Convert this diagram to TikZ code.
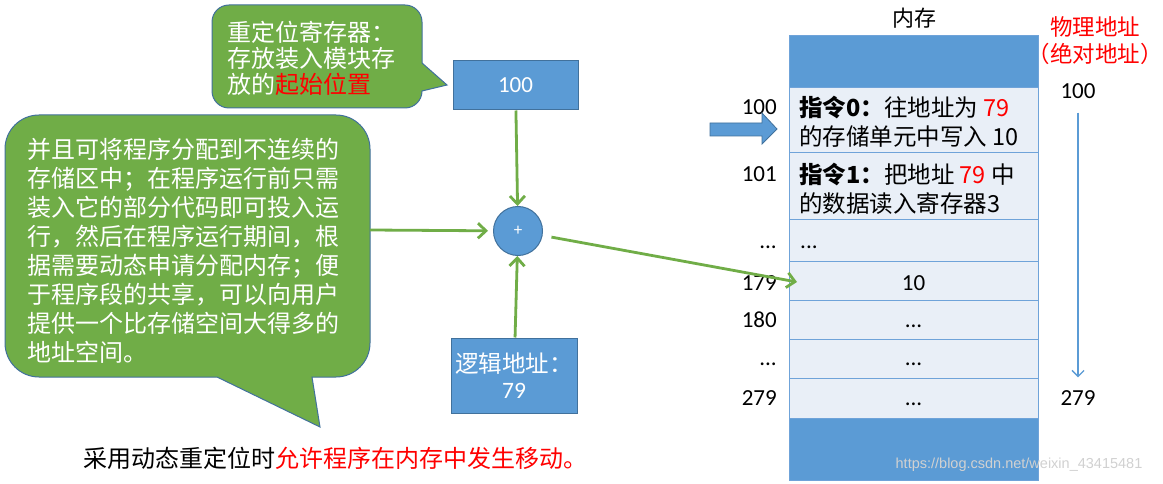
\documentclass[tikz,border=0pt]{standalone}
\usepackage{fontspec}
\setmainfont{Carlito}
\newfontfamily\cjk{Noto Sans CJK SC}
\newfontfamily\wmfont{Liberation Sans}
\usetikzlibrary{arrows.meta}
\definecolor{pptblue}{HTML}{5B9BD5}
\definecolor{pptedge}{HTML}{41719C}
\definecolor{pptgreen}{HTML}{70AD47}
\definecolor{cellfill}{HTML}{E9EFF7}
\definecolor{celledge}{HTML}{6FA3D9}
\newcommand{\fs}[2]{\fontsize{#1}{#2}\selectfont}
\newcommand{\ellip}{.{}.{}.}

\begin{document}
\begin{tikzpicture}[x=1pt, y=-1pt,
    bluebox/.style={draw=pptedge, fill=pptblue, line width=1pt, text=white, inner sep=0pt},
    memcell/.style={draw=celledge, fill=cellfill, line width=1pt, minimum width=249pt, inner sep=0pt},
    memblock/.style={draw=celledge, fill=pptblue, line width=1pt, minimum width=249pt, inner sep=0pt},
    balloon/.style={draw=pptedge, fill=pptgreen, line width=1pt},
    notetext/.style={text=white, align=left, inner sep=0pt},
    flow/.style={draw=pptgreen, line width=2.8pt, -{Straight Barb[length=8pt,width=15pt]}},
    addr/.style={font=\fs{23}{26}, inner sep=0pt},
    rowtext/.style={font=\cjk\fs{23.5}{29}, align=left, inner sep=0pt}]
  \fill[white] (0,0) rectangle (1163,484);
  % callouts
  \draw[balloon] (229,5) -- (405,5) arc[start angle=-90, end angle=0, radius=17]
    -- (422,63) -- (447,85) -- (422,91) arc[start angle=0, end angle=90, radius=17]
    -- (229,108) arc[start angle=90, end angle=180, radius=17]
    -- (212,22) arc[start angle=180, end angle=270, radius=17] -- cycle;
  \node[notetext, anchor=west, font=\cjk\fs{24}{26}] (regnote) at (227,58)
    {重定位寄存器：\\存放装入模块存\\放的\textcolor{red}{起始位置}};
  \draw[balloon] (39,115) -- (336,115) arc[start angle=-90, end angle=0, radius=34]
    -- (370,343) arc[start angle=0, end angle=90, radius=34]
    -- (312,377) -- (320,427) -- (217,377)
    -- (39,377) arc[start angle=90, end angle=180, radius=34]
    -- (5,149) arc[start angle=180, end angle=270, radius=34] -- cycle;
  \node[notetext, anchor=west, font=\cjk\fs{24}{29}] (memo) at (27,251)
    {并且可将程序分配到不连续的\\存储区中；在程序运行前只需\\装入它的部分代码即可投入运\\行，然后在程序运行期间，根\\据需要动态申请分配内存；便\\于程序段的共享，可以向用户\\提供一个比存储空间大得多的\\地址空间。};
  \coordinate (memoR) at (370,230);
  % address adder
  \node[bluebox, minimum width=125pt, minimum height=49pt, font=\fs{23}{26}] (base) at (515.5,85.5) {100};
  \node[bluebox, circle, minimum size=49pt, font=\fs{17}{17}] (plus) at (518,231) {+};
  \node[bluebox, minimum width=126pt, minimum height=75pt, align=center, font=\fs{23.5}{26}] (logic) at (514,375.5)
    {{\cjk 逻辑地址：}\\79};
  \draw[flow] (base) -- (plus);
  \draw[flow] (logic) -- (plus);
  \draw[flow, shorten >=5pt] (memoR) -- (plus);
  % memory
  \node[font=\cjk\fs{22}{24}] (memtitle) at (914,18) {内存};
  \node[memblock, minimum height=52pt] (mtop) at (913.5,62) {};
  \foreach \n/\yc/\h in {100/120.5/65, 101/186.5/67, d1/240.5/41, 179/280.5/39,
      180/319.5/39, d2/358.5/39, 279/398/40} {
    \node[memcell, minimum height=\h pt] (m\n) at (913.5,\yc) {};
  }
  \node[memblock, minimum height=62pt] (mbot) at (913.5,449) {};
  \foreach \a/\yb in {100/115, 101/182, \ellip/248, 179/290, 180/327, \ellip/365, 279/405} {
    \node[addr, anchor=base east] (a\yb) at (777,\yb) {\a};
  }
  \node[rowtext, anchor=west] (ins0) at (799,122)
    {\textbf{指令0：}往地址为 \textcolor{red}{79}\\的存储单元中写入 10};
  \node[rowtext, anchor=west] (ins1) at (799,189)
    {\textbf{指令1：}把地址 \textcolor{red}{79} 中\\的数据读入寄存器3};
  \node[addr, anchor=base west] (vd1) at (800,248) {\ellip};
  \foreach \t/\yb/\n in {10/290/179, \ellip/327/180, \ellip/365/d2, \ellip/405/279} {
    \node[addr, anchor=base] (v\n) at (913.5,\yb) {\t};
  }
  \fill[pptblue, draw=pptedge, line width=0.8pt] (710,123) -- (762,123) -- (762,113) -- (777,129)
    -- (762,144) -- (762,136) -- (710,136) -- cycle;
  \coordinate (hit) at (797,282);
  \draw[flow, shorten <=9pt] (plus) -- (hit);
  % physical addresses
  \node[text=red, align=center, font=\cjk\fs{22.5}{27}] (phys) at (1095,41)
    {物理地址\\\makebox[10pt][r]{（}绝对地址\makebox[10pt][l]{）}};
  \node[addr] (pa100) at (1078,91) {100};
  \node[addr] (pa279) at (1078,398) {279};
  \draw[pptblue, line width=1.3pt, -{Straight Barb[length=6pt,width=12pt]},
    shorten <=14pt, shorten >=13pt] (pa100) -- (pa279);
  \node[anchor=west, font=\cjk\fs{24}{26}] (remark) at (80,458)
    {采用动态重定位时\textcolor{red}{允许程序在内存中发生移动。}};
  \node[text=white!82!black, font=\wmfont\fs{14.5}{16}, inner sep=0pt] (mark) at (1019,465)
    {https://blog.csdn.net/weixin\_43415481};
\end{tikzpicture}
\end{document}
